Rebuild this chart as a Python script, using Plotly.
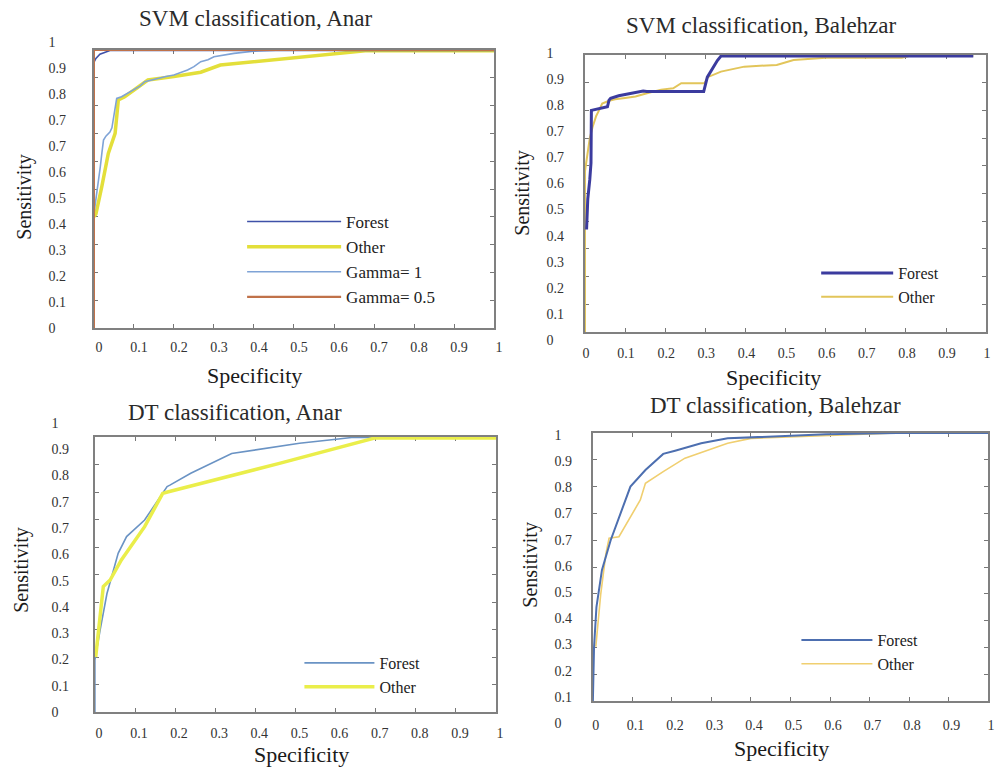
import plotly.graph_objects as go

FONT = "Liberation Serif"
W, H = 1005, 767

# ---------------- tick labels (as printed in the figure) ----------------
x_tick_values = [0, 0.1, 0.2, 0.3, 0.4, 0.5, 0.6, 0.7, 0.8, 0.9, 1.0]
x_tick_labels = ["0", "0.1", "0.2", "0.3", "0.4", "0.5", "0.6", "0.7", "0.8", "0.9", "1"]
y_tick_labels = ["0", "0.1", "0.2", "0.3", "0.4", "0.5", "0.6", "0.7", "0.7", "0.8", "0.9", "1"]

# ---------------- SVM classification, Anar ----------------
svm_anar_other_x = [0, 0.005, 0.02, 0.036, 0.053, 0.057, 0.061, 0.077, 0.10, 0.135, 0.20, 0.267,
                    0.316, 0.398, 0.514, 0.596, 0.678, 1.0]
svm_anar_other_y = [0.40, 0.41, 0.51, 0.628, 0.70, 0.748, 0.82, 0.832, 0.856, 0.892, 0.905, 0.92,
                    0.946, 0.958, 0.974, 0.986, 0.997, 0.997]
svm_anar_g1_x = [0, 0.005, 0.011, 0.016, 0.02, 0.024, 0.03, 0.036, 0.04, 0.045, 0.049, 0.053, 0.057,
                 0.069, 0.085, 0.10, 0.115, 0.127, 0.145, 0.16, 0.18, 0.20, 0.215, 0.234, 0.25, 0.267,
                 0.285, 0.30, 0.35, 0.41, 0.47, 1.0]
svm_anar_g1_y = [0.41, 0.46, 0.52, 0.58, 0.63, 0.676, 0.69, 0.70, 0.705, 0.72, 0.76, 0.80, 0.826,
                 0.832, 0.845, 0.856, 0.87, 0.886, 0.893, 0.90, 0.905, 0.91, 0.918, 0.928, 0.94, 0.958,
                 0.965, 0.976, 0.988, 0.997, 1.0, 1.0]
svm_anar_forest_x = [0, 0.005, 0.015, 0.04, 1.0]
svm_anar_forest_y = [0.955, 0.97, 0.985, 0.998, 0.998]
svm_anar_g05_x = [0, 0, 1.0]
svm_anar_g05_y = [0, 1.0, 1.0]

# ---------------- SVM classification, Balehzar ----------------
svm_bal_other_x = [0, 0, 0.004, 0.007, 0.012, 0.019, 0.028, 0.035, 0.043, 0.06, 0.075, 0.10, 0.126,
                   0.15, 0.19, 0.22, 0.24, 0.298, 0.306, 0.339, 0.397, 0.478, 0.52, 0.60, 0.79, 0.81, 0.968]
svm_bal_other_y = [0, 0.58, 0.62, 0.646, 0.70, 0.74, 0.78, 0.80, 0.825, 0.835, 0.84, 0.845, 0.85,
                   0.86, 0.875, 0.88, 0.898, 0.898, 0.92, 0.94, 0.958, 0.964, 0.982, 0.99, 0.99, 0.997, 0.997]
svm_bal_forest_x = [0.004, 0.007, 0.012, 0.015, 0.016, 0.035, 0.056, 0.06, 0.064, 0.084, 0.12, 0.145,
                    0.154, 0.296, 0.305, 0.318, 0.33, 0.339, 0.5, 0.968]
svm_bal_forest_y = [0.37, 0.48, 0.55, 0.61, 0.80, 0.807, 0.813, 0.837, 0.844, 0.853, 0.862, 0.87,
                    0.868, 0.868, 0.92, 0.953, 0.98, 0.996, 0.996, 0.996]

# ---------------- DT classification, Anar ----------------
dt_anar_forest_x = [0, 0, 0.013, 0.03, 0.058, 0.079, 0.124, 0.18, 0.187, 0.239, 0.341, 0.428, 0.51,
                    0.59, 0.64, 0.85]
dt_anar_forest_y = [0, 0.19, 0.298, 0.43, 0.577, 0.638, 0.698, 0.82, 0.825, 0.868, 0.94, 0.959, 0.977,
                    0.99, 0.998, 0.998]
dt_anar_other_x = [0.002, 0.021, 0.038, 0.066, 0.124, 0.169, 0.181, 0.46, 0.697, 1.0]
dt_anar_other_y = [0.20, 0.456, 0.48, 0.553, 0.674, 0.795, 0.80, 0.904, 0.996, 0.996]

# ---------------- DT classification, Balehzar ----------------
dt_bal_forest_x = [0, 0.003, 0.009, 0.023, 0.045, 0.095, 0.133, 0.178, 0.208, 0.274, 0.341, 0.40,
                   0.59, 0.77, 1.0]
dt_bal_forest_y = [0, 0.203, 0.35, 0.489, 0.60, 0.80, 0.862, 0.922, 0.934, 0.962, 0.98, 0.984,
                   0.995, 1.0, 1.0]
dt_bal_other_x = [0.0075, 0.02, 0.033, 0.041, 0.066, 0.12, 0.133, 0.178, 0.233, 0.291, 0.341, 0.40,
                  0.59, 0.77, 1.0]
dt_bal_other_y = [0.203, 0.40, 0.55, 0.607, 0.613, 0.75, 0.812, 0.856, 0.906, 0.937, 0.962, 0.98,
                  0.99, 1.0, 1.0]

# ---------------- layout geometry (pixels) ----------------
panels = [
    dict(n=1, frame=(92, 497, 50, 328), ylab=(328, 42), ylab_x=42, xshift=5, xstand=5,
         title="SVM classification, Anar", title_xy=(256, 18),
         sens_xy=(22, 197), spec_xy=(255, 375)),
    dict(n=2, frame=(589, 995, 55, 332), ylab=(340, 53), ylab_x=546, xshift=1, xstand=7,
         title="SVM classification, Balehzar", title_xy=(768, 25),
         sens_xy=(525, 193), spec_xy=(780, 377)),
    dict(n=3, frame=(93, 499, 437, 712), ylab=(712, 423), ylab_x=45, xshift=4, xstand=7,
         title="DT classification, Anar", title_xy=(235, 412),
         sens_xy=(18, 570), spec_xy=(302, 754)),
    dict(n=4, frame=(597, 997, 433, 701), ylab=(723, 435), ylab_x=554, xshift=3, xstand=10,
         title="DT classification, Balehzar", title_xy=(782, 405),
         sens_xy=(533, 565), spec_xy=(788, 748)),
]

fig = go.Figure()


def add_line(n, x, y, name, color, width, legend, rank):
    suffix = "" if n == 1 else str(n)
    fig.add_trace(go.Scatter(
        x=x, y=y, mode="lines", name=name,
        line=dict(color=color, width=width),
        xaxis="x" + suffix, yaxis="y" + suffix,
        legend=legend, legendrank=rank, cliponaxis=False,
    ))


# panel 1
add_line(1, svm_anar_other_x, svm_anar_other_y, "Other", "#e3df3a", 3.5, "legend", 2)
add_line(1, svm_anar_g1_x, svm_anar_g1_y, "Gamma= 1", "#7fa3d6", 1.6, "legend", 3)
add_line(1, svm_anar_forest_x, svm_anar_forest_y, "Forest", "#3f51a8", 1.6, "legend", 1)
add_line(1, svm_anar_g05_x, svm_anar_g05_y, "Gamma= 0.5", "#c0724a", 2.2, "legend", 4)
# panel 2
add_line(2, svm_bal_other_x, svm_bal_other_y, "Other", "#e2c55a", 2.0, "legend2", 2)
add_line(2, svm_bal_forest_x, svm_bal_forest_y, "Forest", "#3b3b9e", 3.0, "legend2", 1)
# panel 3
add_line(3, dt_anar_forest_x, dt_anar_forest_y, "Forest", "#6a93c4", 1.6, "legend3", 1)
add_line(3, dt_anar_other_x, dt_anar_other_y, "Other", "#eaee4a", 3.5, "legend3", 2)
# panel 4
add_line(4, dt_bal_other_x, dt_bal_other_y, "Other", "#f0cf70", 1.6, "legend4", 2)
add_line(4, dt_bal_forest_x, dt_bal_forest_y, "Forest", "#4d6fb0", 2.0, "legend4", 1)

layout = dict(
    width=W, height=H,
    margin=dict(l=0, r=0, t=0, b=0),
    paper_bgcolor="white", plot_bgcolor="rgba(0,0,0,0)",
    font=dict(family=FONT, color="#222"),
    annotations=[],
)

tick_font = dict(family=FONT, size=14, color="#333")

for p in panels:
    n = p["n"]
    s = "" if n == 1 else str(n)
    l, r, t, b = p["frame"]
    layout["xaxis" + s] = dict(
        domain=[l / W, r / W], anchor="y" + s, range=[0, 1],
        tickmode="array", tickvals=x_tick_values, ticktext=x_tick_labels,
        ticks="inside", ticklen=4, tickcolor="#777", tickwidth=1,
        showline=True, linecolor="#808080", linewidth=1.5, mirror="ticks",
        showgrid=False, zeroline=False, layer="below traces",
        tickfont=tick_font, ticklabelshift=p["xshift"], ticklabelstandoff=p["xstand"],
    )
    layout["yaxis" + s] = dict(
        domain=[1 - b / H, 1 - t / H], anchor="x" + s, range=[0, 1],
        tickmode="array", tickvals=x_tick_values, showticklabels=False,
        ticks="inside", ticklen=4, tickcolor="#777", tickwidth=1,
        showline=True, linecolor="#808080", linewidth=1.5, mirror="ticks",
        showgrid=False, zeroline=False, layer="below traces",
    )
    # separate axis that carries the printed y tick labels
    lb, lt = p["ylab"]
    d = (lb - lt) / (len(y_tick_labels) - 1)
    ls = str(n + 4)
    layout["yaxis" + ls] = dict(
        domain=[1 - (lb + d / 2) / H, 1 - (lt - d / 2) / H],
        anchor="free", position=p["ylab_x"] / W, side="left",
        range=[-0.5, len(y_tick_labels) - 0.5],
        tickmode="array", tickvals=list(range(len(y_tick_labels))), ticktext=y_tick_labels,
        ticks="", showline=False, showgrid=False, zeroline=False,
        ticklabelposition="inside", tickfont=tick_font,
    )
    fig.add_trace(go.Scatter(x=[None], y=[None], xaxis="x" + s, yaxis="y" + ls,
                             showlegend=False, hoverinfo="skip"))

    tx, ty = p["title_xy"]
    layout["annotations"].append(dict(
        text=p["title"], x=tx / W, y=1 - ty / H, xref="paper", yref="paper",
        xanchor="center", yanchor="middle", showarrow=False,
        font=dict(family=FONT, size=23, color="#2a2a2a")))
    sx, sy = p["sens_xy"]
    layout["annotations"].append(dict(
        text="Sensitivity", x=sx / W, y=1 - sy / H, xref="paper", yref="paper",
        xanchor="center", yanchor="middle", showarrow=False, textangle=-90,
        font=dict(family=FONT, size=20, color="#1a1a1a")))
    px_, py_ = p["spec_xy"]
    layout["annotations"].append(dict(
        text="Specificity", x=px_ / W, y=1 - py_ / H, xref="paper", yref="paper",
        xanchor="center", yanchor="middle", showarrow=False,
        font=dict(family=FONT, size=22, color="#1a1a1a")))

legend_common = dict(xanchor="left", yanchor="top", bgcolor="rgba(0,0,0,0)",
                     borderwidth=0, tracegroupgap=0)
layout["legend"] = dict(x=242 / W, y=1 - 204 / H, itemwidth=94,
                        font=dict(family=FONT, size=17, color="#222"), **legend_common)
layout["legend2"] = dict(x=823 / W, y=1 - 256 / H, itemwidth=72,
                         font=dict(family=FONT, size=16, color="#222"), **legend_common)
layout["legend3"] = dict(x=300 / W, y=1 - 646 / H, itemwidth=70,
                         font=dict(family=FONT, size=16, color="#222"), **legend_common)
layout["legend4"] = dict(x=803 / W, y=1 - 623 / H, itemwidth=71,
                         font=dict(family=FONT, size=16, color="#222"), **legend_common)

fig.update_layout(**layout)
fig.write_html("out.html")
